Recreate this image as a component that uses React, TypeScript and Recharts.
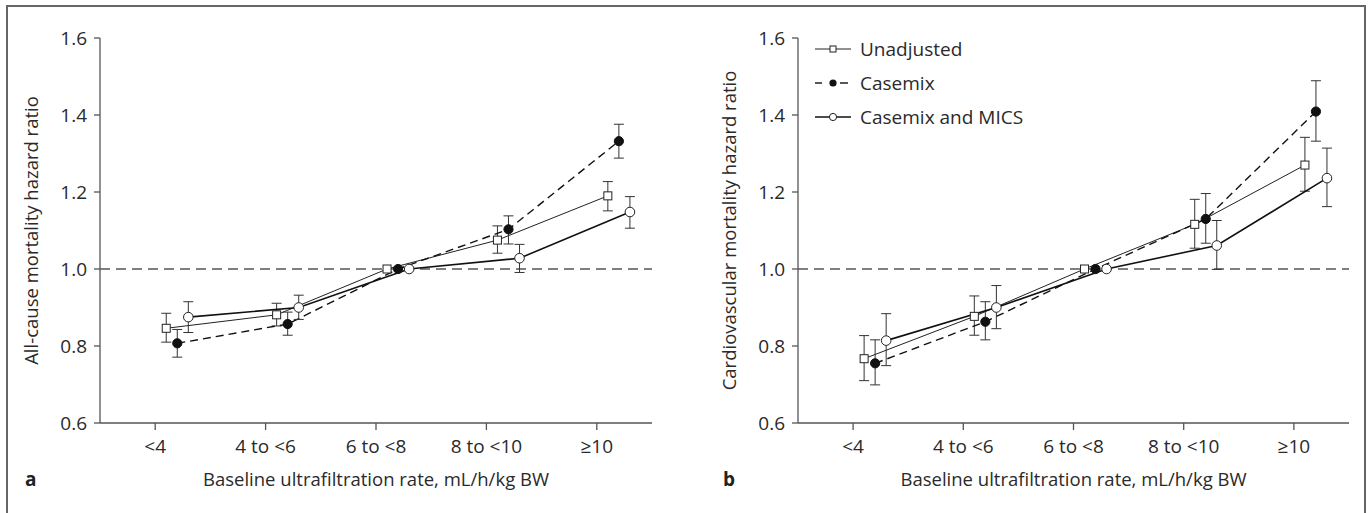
import React from 'react';
import { ComposedChart, Line, XAxis, YAxis, ReferenceLine, ErrorBar, Legend } from 'recharts';

const categories = ['<4', '4 to <6', '6 to <8', '8 to <10', '≥10'];
const yTicks = [0.6, 0.8, 1.0, 1.2, 1.4, 1.6];
const legendLabels = ['Unadjusted', 'Casemix', 'Casemix and MICS'];
const xAxisTitle = 'Baseline ultrafiltration rate, mL/h/kg BW';
const yTitleA = 'All-cause mortality hazard ratio';
const yTitleB = 'Cardiovascular mortality hazard ratio';

// Panel a: all-cause mortality
const aUnadjHR = [0.846, 0.881, 1.0, 1.075, 1.19];
const aUnadjLo = [0.81, 0.852, null, 1.041, 1.151];
const aUnadjHi = [0.885, 0.911, null, 1.112, 1.227];
const aCaseHR = [0.807, 0.857, 1.0, 1.103, 1.332];
const aCaseLo = [0.771, 0.828, null, 1.065, 1.288];
const aCaseHi = [0.843, 0.888, null, 1.138, 1.376];
const aMicsHR = [0.875, 0.9, 1.0, 1.028, 1.148];
const aMicsLo = [0.835, 0.869, null, 0.991, 1.106];
const aMicsHi = [0.915, 0.932, null, 1.064, 1.188];

// Panel b: cardiovascular mortality
const bUnadjHR = [0.767, 0.877, 1.0, 1.116, 1.27];
const bUnadjLo = [0.71, 0.828, null, 1.054, 1.202];
const bUnadjHi = [0.827, 0.93, null, 1.181, 1.342];
const bCaseHR = [0.755, 0.863, 1.0, 1.13, 1.409];
const bCaseLo = [0.699, 0.816, null, 1.067, 1.332];
const bCaseHi = [0.816, 0.915, null, 1.196, 1.489];
const bMicsHR = [0.814, 0.9, 1.0, 1.061, 1.236];
const bMicsLo = [0.749, 0.845, null, 0.999, 1.162];
const bMicsHi = [0.884, 0.957, null, 1.126, 1.314];

const FONT = '"Open Sans", "DejaVu Sans", sans-serif';
const TEXT = '#2a2a2a';
const AXIS = '#555';

type Pt = { x: number; y: number; err: [number, number] | null };

function build(hr: number[], lo: (number | null)[], hi: (number | null)[], shift: number): Pt[] {
  return hr.map((v, i) => ({
    x: i + shift,
    y: v,
    err: lo[i] == null || hi[i] == null ? null : [v - (lo[i] as number), (hi[i] as number) - v],
  }));
}

const SquareDot = (p: any) =>
  p.cx == null ? null : (
    <rect key={`sq-${p.index}`} x={p.cx - 4} y={p.cy - 4} width={8} height={8} fill="#fff" stroke="#222" strokeWidth={1} />
  );
const FilledDot = (p: any) =>
  p.cx == null ? null : <circle key={`fc-${p.index}`} cx={p.cx} cy={p.cy} r={4.6} fill="#111" stroke="#111" strokeWidth={1} />;
const OpenDot = (p: any) =>
  p.cx == null ? null : <circle key={`oc-${p.index}`} cx={p.cx} cy={p.cy} r={4.8} fill="#fff" stroke="#222" strokeWidth={1} />;

const LegendContent = () => (
  <div style={{ fontFamily: FONT, fontSize: 19, color: TEXT, lineHeight: '34px' }}>
    {legendLabels.map((name, i) => (
      <div key={name} style={{ display: 'flex', alignItems: 'center', height: 34 }}>
        <svg width={40} height={34}>
          {i === 0 && (
            <g>
              <line x1={0} y1={17} x2={36} y2={17} stroke="#222" strokeWidth={1} />
              <rect x={15} y={14} width={6} height={6} fill="#fff" stroke="#222" strokeWidth={1} />
            </g>
          )}
          {i === 1 && (
            <g>
              <line x1={0} y1={17} x2={7} y2={17} stroke="#111" strokeWidth={1.4} />
              <line x1={25} y1={17} x2={33} y2={17} stroke="#111" strokeWidth={1.4} />
              <circle cx={18} cy={17} r={3.6} fill="#111" />
            </g>
          )}
          {i === 2 && (
            <g>
              <line x1={0} y1={17} x2={36} y2={17} stroke="#111" strokeWidth={1.5} />
              <circle cx={18} cy={17} r={3.6} fill="#fff" stroke="#222" strokeWidth={1} />
            </g>
          )}
        </svg>
        <span style={{ marginLeft: 5 }}>{name}</span>
      </div>
    ))}
  </div>
);

type PanelProps = {
  letter: string;
  yTitle: string;
  unadj: Pt[];
  casemix: Pt[];
  mics: Pt[];
  width: number;
  marginLeft: number;
  marginRight: number;
  legend?: boolean;
};

function Panel({ letter, yTitle, unadj, casemix, mics, width, marginLeft, marginRight, legend }: PanelProps) {
  const xLabel = (props: any) => {
    const vb = props.viewBox;
    return (
      <g>
        <text x={vb.x + vb.width / 2} y={vb.y + 63} textAnchor="middle" fontFamily={FONT} fontSize={18.5} fill={TEXT}>
          {xAxisTitle}
        </text>
        <text x={vb.x - 75} y={vb.y + 63} textAnchor="start" fontFamily={FONT} fontSize={19} fontWeight="bold" fill="#222">
          {letter}
        </text>
      </g>
    );
  };
  const yLabel = (props: any) => {
    const vb = props.viewBox;
    const cx = vb.x - 2;
    const cy = vb.y + vb.height / 2;
    return (
      <text x={cx} y={cy} transform={`rotate(-90, ${cx}, ${cy})`} textAnchor="middle" fontFamily={FONT} fontSize={18.5} fill={TEXT}>
        {yTitle}
      </text>
    );
  };
  return (
    <ComposedChart width={width} height={513} margin={{ top: 38, right: marginRight, bottom: 60, left: marginLeft }}>
      <XAxis
        type="number"
        dataKey="x"
        domain={[-0.5, 4.5]}
        ticks={[0, 1, 2, 3, 4]}
        tickFormatter={(v: number) => categories[v] ?? ''}
        height={30}
        tickSize={7}
        tickMargin={10}
        stroke={AXIS}
        strokeWidth={1.3}
        tick={{ fontSize: 19, fill: TEXT, fontFamily: FONT }}
        axisLine={{ stroke: AXIS, strokeWidth: 1.3 }}
        tickLine={{ stroke: AXIS, strokeWidth: 1.3 }}
        interval={0}
        allowDataOverflow
        label={xLabel}
      />
      <YAxis
        type="number"
        domain={[0.6, 1.6]}
        ticks={yTicks}
        tickFormatter={(v: number) => v.toFixed(1)}
        width={60}
        tickSize={6}
        tickMargin={7}
        stroke={AXIS}
        tick={{ fontSize: 19, fill: TEXT, fontFamily: FONT }}
        axisLine={{ stroke: AXIS, strokeWidth: 1.3 }}
        tickLine={{ stroke: AXIS, strokeWidth: 1.3 }}
        interval={0}
        allowDataOverflow
        label={yLabel}
      />
      <ReferenceLine y={1} stroke={AXIS} strokeWidth={1.3} strokeDasharray="10 6" />
      <Line
        data={unadj}
        dataKey="y"
        type="linear"
        stroke="#222"
        strokeWidth={1}
        dot={SquareDot}
        activeDot={false}
        isAnimationActive={false}
        name={legendLabels[0]}
      >
        <ErrorBar dataKey="err" direction="y" width={5} stroke="#333" strokeWidth={1} />
      </Line>
      <Line
        data={casemix}
        dataKey="y"
        type="linear"
        stroke="#111"
        strokeWidth={1.4}
        strokeDasharray="8 5"
        dot={FilledDot}
        activeDot={false}
        isAnimationActive={false}
        name={legendLabels[1]}
      >
        <ErrorBar dataKey="err" direction="y" width={5} stroke="#333" strokeWidth={1} />
      </Line>
      <Line
        data={mics}
        dataKey="y"
        type="linear"
        stroke="#111"
        strokeWidth={1.6}
        dot={OpenDot}
        activeDot={false}
        isAnimationActive={false}
        name={legendLabels[2]}
      >
        <ErrorBar dataKey="err" direction="y" width={5} stroke="#333" strokeWidth={1} />
      </Line>
      {legend && (
        <Legend
          layout="horizontal"
          verticalAlign="middle"
          align="center"
          content={LegendContent}
          wrapperStyle={{ left: 130, top: 32, width: 260, height: 110 }}
        />
      )}
    </ComposedChart>
  );
}

export default function App() {
  const aU = build(aUnadjHR, aUnadjLo, aUnadjHi, 0.1);
  const aC = build(aCaseHR, aCaseLo, aCaseHi, 0.2);
  const aM = build(aMicsHR, aMicsLo, aMicsHi, 0.3);
  const bU = build(bUnadjHR, bUnadjLo, bUnadjHi, 0.1);
  const bC = build(bCaseHR, bCaseLo, bCaseHi, 0.2);
  const bM = build(bMicsHR, bMicsLo, bMicsHi, 0.3);
  return (
    <div style={{ position: 'absolute', left: 0, top: 0, width: 1371, height: 513, background: '#fff', overflow: 'hidden' }}>
      <div
        style={{
          position: 'absolute',
          left: 6,
          top: 5,
          width: 1356,
          height: 520,
          borderTop: '2px solid #666',
          borderLeft: '2px solid #666',
          borderRight: '2px solid #666',
        }}
      />
      <div style={{ position: 'absolute', left: 0, top: 0 }}>
        <Panel letter="a" yTitle={yTitleA} unadj={aU} casemix={aC} mics={aM} width={685} marginLeft={40} marginRight={33} />
      </div>
      <div style={{ position: 'absolute', left: 685, top: 0 }}>
        <Panel letter="b" yTitle={yTitleB} unadj={bU} casemix={bC} mics={bM} width={686} marginLeft={53} marginRight={22} legend />
      </div>
    </div>
  );
}
